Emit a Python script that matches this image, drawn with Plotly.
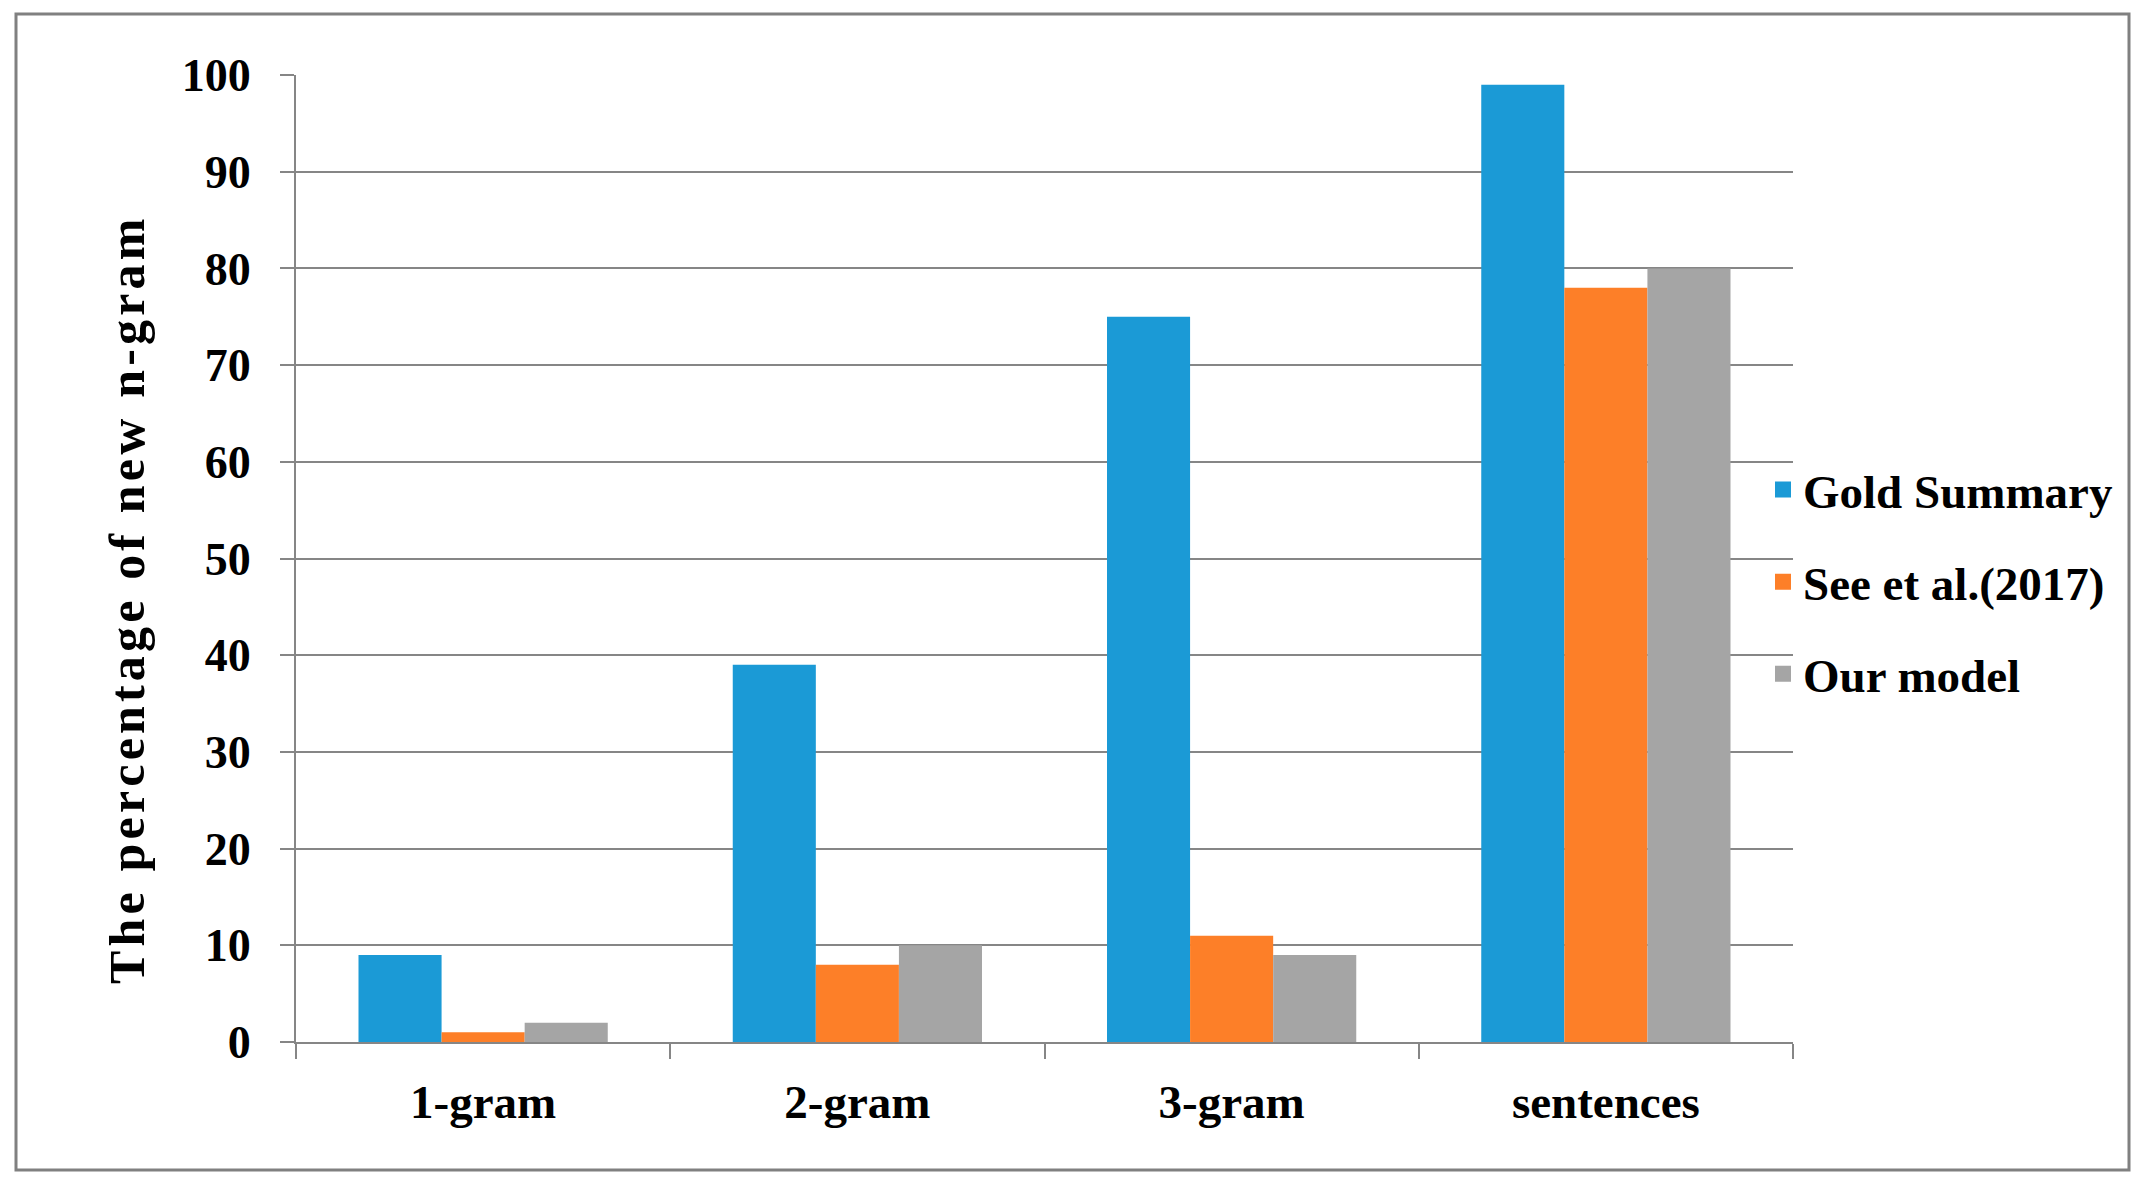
"""Percentage of novel n-grams: gold summaries vs. See et al. (2017) vs. our model."""
import plotly.graph_objects as go

categories = ["1-gram", "2-gram", "3-gram", "sentences"]
gold_summary = [9, 39, 75, 99]
see_et_al = [1, 8, 11, 78]
our_model = [2, 10, 9, 80]
y_ticks = list(range(0, 101, 10))

series = [
    ("Gold Summary", gold_summary, "#1b9ad6"),
    ("See et al.(2017)", see_et_al, "#fd7f28"),
    ("Our model", our_model, "#a5a5a5"),
]

FONT = "Liberation Serif"
W, H = 2147, 1188
OFF = 8  # page body margin
L, R, T, B = 296 - OFF, 354 + OFF, 75 - OFF, 146 + OFF
PW, PH = W - L - R, H - T - B


def px_x(px):
    return (px - OFF - L) / PW


def px_y(py):
    return (H - B - (py - OFF)) / PH


fig = go.Figure()
for i, (name, vals, color) in enumerate(series):
    fig.add_trace(go.Bar(
        x=categories, y=vals, name=name, legendgroup=str(i), showlegend=False,
        marker=dict(color=color, line=dict(width=0)),
    ))
    # legend entry with a bigger square swatch
    fig.add_trace(go.Scatter(
        x=[None], y=[None], mode="markers", name=name, legendgroup=str(i),
        marker=dict(symbol="square", size=20, color=color),
    ))

# hair spaces stretch the y title like the original
y_title = "\u200a".join("The percentage of new n-gram")

fig.update_layout(
    width=W, height=H,
    margin=dict(l=L, r=R, t=T, b=B),
    paper_bgcolor="white", plot_bgcolor="white",
    barmode="group", bargap=0.334, bargroupgap=0,
    font=dict(family=FONT, size=46, color="black"),
    showlegend=True,
    legend=dict(
        x=px_x(1763), xanchor="left", y=px_y(582), yanchor="middle",
        bgcolor="rgba(0,0,0,0)", tracegroupgap=28, traceorder="grouped",
        font=dict(family=FONT, size=47, color="black", weight="bold"),
    ),
    xaxis=dict(
        showline=True, linecolor="#868686", linewidth=2,
        ticks="outside", tickson="boundaries", ticklen=15, tickcolor="#868686", tickwidth=2,
        tickfont=dict(family=FONT, size=47, weight="bold"),
        ticklabelstandoff=18,
        showgrid=False,
    ),
    yaxis=dict(
        range=[0, 100], tickvals=y_ticks,
        showline=True, linecolor="#868686", linewidth=2,
        ticks="outside", ticklen=14, tickcolor="#868686", tickwidth=2,
        showgrid=True, gridcolor="#868686", gridwidth=2,
        tickfont=dict(family=FONT, size=46, weight="bold"),
        ticklabelstandoff=20,
        zeroline=False,
    ),
    annotations=[dict(
        text=y_title, textangle=-90, showarrow=False,
        xref="paper", yref="paper", x=px_x(127), y=px_y(602),
        xanchor="center", yanchor="middle",
        font=dict(family=FONT, size=50, weight="bold", color="black"),
    )],
    shapes=[dict(
        type="rect", xref="paper", yref="paper",
        x0=px_x(16), x1=px_x(2129), y0=px_y(1170), y1=px_y(14),
        line=dict(color="#808080", width=3), fillcolor="rgba(0,0,0,0)", layer="below",
    )],
)

fig.write_html("out.html")
